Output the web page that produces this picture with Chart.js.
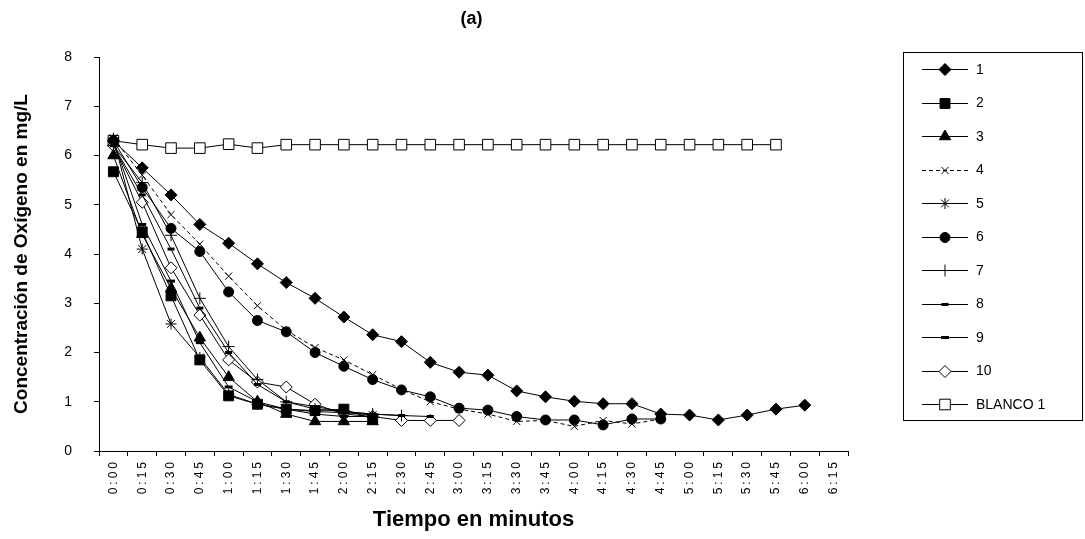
<!DOCTYPE html>
<html>
<head>
<meta charset="utf-8">
<script src="https://cdn.jsdelivr.net/npm/chart.js@4.4.1/dist/chart.umd.min.js"></script>
<style>
  html, body { margin: 0; padding: 0; background: #fff; }
  #wrap { width: 1085px; height: 539px; position: relative; }
</style>
</head>
<body>
<div id="wrap"><canvas id="chart"></canvas></div>
<script>
// categorias del eje X
const tiempos = ['0:00','0:15','0:30','0:45','1:00','1:15','1:30','1:45','2:00','2:15','2:30','2:45','3:00',
                 '3:15','3:30','3:45','4:00','4:15','4:30','4:45','5:00','5:15','5:30','5:45','6:00','6:15'];

// valores (mg/L)
const serie1  = [6.3, 5.75, 5.2, 4.6, 4.22, 3.8, 3.42, 3.1, 2.72, 2.36, 2.22, 1.8, 1.6, 1.54, 1.22, 1.1, 1.01, 0.96, 0.96, 0.75, 0.73, 0.63, 0.73, 0.85, 0.93];
const serie2  = [5.67, 4.45, 3.15, 1.85, 1.12, 0.95, 0.85, 0.82, 0.85, 0.65];
const serie3  = [6.0, 4.4, 3.3, 2.3, 1.5, 1.0, 0.75, 0.6, 0.6, 0.6];
const serie4  = [6.35, 5.6, 4.8, 4.2, 3.55, 2.95, 2.45, 2.1, 1.85, 1.55, 1.25, 1.0, 0.85, 0.75, 0.6, 0.62, 0.5, 0.62, 0.55, 0.65];
const serie5  = [6.35, 4.1, 2.58, 1.9, 1.15, 0.95, 0.85, 0.8, 0.78, 0.73];
const serie6  = [6.3, 5.35, 4.52, 4.05, 3.23, 2.65, 2.42, 2.0, 1.72, 1.45, 1.24, 1.1, 0.87, 0.83, 0.7, 0.63, 0.63, 0.53, 0.65, 0.65];
const serie7  = [6.2, 5.45, 4.38, 3.1, 2.12, 1.45, 1.0, 0.85, 0.8, 0.75, 0.72];
const serie8  = [6.2, 5.2, 4.1, 2.9, 2.0, 1.35, 1.0, 0.9, 0.8, 0.75, 0.72, 0.7];
const serie9  = [6.3, 4.6, 3.45, 2.2, 1.3, 1.0, 0.85, 0.75, 0.7, 0.7];
const serie10 = [6.2, 5.05, 3.72, 2.76, 1.85, 1.4, 1.3, 0.95, 0.75, 0.7, 0.62, 0.62, 0.62];
const blanco1 = [6.3, 6.22, 6.15, 6.15, 6.23, 6.15, 6.22, 6.22, 6.22, 6.22, 6.22, 6.22, 6.22, 6.22, 6.22, 6.22, 6.22, 6.22, 6.22, 6.22, 6.22, 6.22, 6.22, 6.22];

const yTicks = [0, 1, 2, 3, 4, 5, 6, 7, 8];

// estilo de cada serie (marcador, tamaño, relleno)
const estilos = [
  { label: '1',        data: serie1,  pointStyle: 'rectRot',  radius: 6,   fill: '#000', bw: 1 },
  { label: '2',        data: serie2,  pointStyle: 'rect',     radius: 7,   fill: '#000', bw: 1 },
  { label: '3',        data: serie3,  pointStyle: 'triangle', radius: 6.5, fill: '#000', bw: 1 },
  { label: '4',        data: serie4,  pointStyle: 'crossRot', radius: 5,   fill: '#000', bw: 1, dash: [4, 3] },
  { label: '5',        data: serie5,  pointStyle: 'star',     radius: 5.5, fill: '#000', bw: 1 },
  { label: '6',        data: serie6,  pointStyle: 'circle',   radius: 5,   fill: '#000', bw: 1 },
  { label: '7',        data: serie7,  pointStyle: 'cross',    radius: 6,   fill: '#000', bw: 1 },
  { label: '8',        data: serie8,  pointStyle: 'line',     radius: 3.5, fill: '#000', bw: 3 },
  { label: '9',        data: serie9,  pointStyle: 'line',     radius: 4,   fill: '#000', bw: 3 },
  { label: '10',       data: serie10, pointStyle: 'rectRot',  radius: 6,   fill: '#fff', bw: 1 },
  { label: 'BLANCO 1', data: blanco1, pointStyle: 'rect',     radius: 7.5, fill: '#fff', bw: 1 }
];

const datasets = estilos.map(e => ({
  label: e.label,
  data: e.data,
  borderColor: '#000',
  backgroundColor: '#000',
  borderWidth: 1,
  borderDash: e.dash || [],
  pointStyle: e.pointStyle,
  pointRadius: e.radius,
  pointBackgroundColor: e.fill,
  pointBorderColor: '#000',
  pointBorderWidth: e.bw,
  tension: 0,
  fill: false
}));

// eje de categorias con etiquetas algo espaciadas, como en el original
class SpacedCategoryScale extends Chart.CategoryScale {
  drawLabels(chartArea) {
    this.ctx.save();
    this.ctx.letterSpacing = '3px';
    super.drawLabels(chartArea);
    this.ctx.restore();
  }
}
SpacedCategoryScale.id = 'spacedCategory';
SpacedCategoryScale.defaults = Chart.CategoryScale.defaults;
Chart.register(SpacedCategoryScale);

// titulo "(a)" y leyenda con recuadro
const extras = {
  id: 'extras',
  afterDraw(chart) {
    const ctx = chart.ctx;
    const area = chart.chartArea;
    ctx.save();
    ctx.fillStyle = '#000';
    ctx.font = 'bold 18px "Liberation Sans", Arial, sans-serif';
    ctx.textAlign = 'center';
    ctx.textBaseline = 'middle';
    ctx.fillText('(a)', (area.left + area.right) / 2 - 2, 19);

    // recuadro de la leyenda
    ctx.strokeStyle = '#000';
    ctx.lineWidth = 1;
    ctx.strokeRect(903.5, 52.5, 179, 368);

    ctx.font = '14px "Liberation Sans", Arial, sans-serif';
    ctx.textAlign = 'left';
    chart.data.datasets.forEach((ds, i) => {
      const y = 69 + i * 33.5;
      ctx.save();
      ctx.strokeStyle = '#000';
      ctx.lineWidth = 1;
      ctx.setLineDash(ds.borderDash || []);
      ctx.beginPath();
      ctx.moveTo(922, Math.round(y) + 0.5);
      ctx.lineTo(968, Math.round(y) + 0.5);
      ctx.stroke();
      ctx.setLineDash([]);
      ctx.fillStyle = ds.pointBackgroundColor;
      ctx.strokeStyle = '#000';
      ctx.lineWidth = ds.pointBorderWidth;
      Chart.helpers.drawPoint(ctx, {
        pointStyle: ds.pointStyle,
        radius: ds.pointRadius,
        rotation: 0,
        borderWidth: ds.pointBorderWidth
      }, 945, Math.round(y) + 0.5);
      ctx.restore();
      ctx.fillStyle = '#000';
      ctx.fillText(ds.label, 976, y + 1);
    });
    ctx.restore();
  }
};

new Chart(document.getElementById('chart'), {
  type: 'line',
  data: { labels: tiempos, datasets: datasets },
  plugins: [extras],
  options: {
    responsive: true,
    maintainAspectRatio: false,
    animation: false,
    layout: { padding: { left: 10, right: 237, top: 57, bottom: 4 } },
    plugins: {
      legend: { display: false },
      title: { display: false },
      tooltip: { enabled: false }
    },
    scales: {
      x: {
        type: 'spacedCategory',
        offset: true,
        grid: { offset: true, drawOnChartArea: false, drawTicks: true, tickLength: 5, color: '#000' },
        border: { display: true, color: '#000', width: 1 },
        ticks: {
          autoSkip: false,
          minRotation: 90,
          maxRotation: 90,
          padding: 3,
          color: '#000',
          font: { family: '"Liberation Sans", Arial, sans-serif', size: 12 }
        },
        title: {
          display: true,
          text: 'Tiempo en minutos',
          color: '#000',
          padding: { top: 0, bottom: 2 },
          font: { family: '"Liberation Sans", Arial, sans-serif', size: 22, weight: 'bold' }
        },
        afterFit(scale) { scale.height = 84; }
      },
      y: {
        min: 0,
        max: 8,
        afterBuildTicks(scale) { scale.ticks = yTicks.map(v => ({ value: v })); },
        grid: { drawOnChartArea: false, drawTicks: true, tickLength: 5, color: '#000' },
        border: { display: true, color: '#000', width: 1 },
        ticks: {
          padding: 22,
          color: '#000',
          font: { family: '"Liberation Sans", Arial, sans-serif', size: 14 }
        },
        title: {
          display: true,
          text: 'Concentración de Oxígeno en mg/L',
          color: '#000',
          padding: { top: 0, bottom: 0 },
          font: { family: '"Liberation Sans", Arial, sans-serif', size: 19, weight: 'bold' }
        },
        afterFit(scale) { scale.width = 89; }
      }
    }
  }
});
</script>
</body>
</html>
